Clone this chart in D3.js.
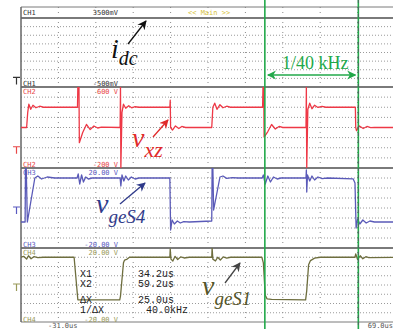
<!DOCTYPE html>
<html>
<head>
<meta charset="utf-8">
<script src="https://cdn.jsdelivr.net/npm/d3@7"></script>
<style>
  body { margin: 0; background: #fff; }
  svg { display: block; }
</style>
</head>
<body>
<div id="chart"></div>
<script>
// scope screen, time in us
const timeSpan = [-31, 69];
const timeLabels = ["-31.0us", "69.0us"];
const cursorTimes = [34.2, 59.2];
const cursorNames = ["X1", "X2", "\u0394X", "1/\u0394X"];
const cursorValues = ["34.2us", "59.2us", "25.0us", "40.0kHz"];

const channelNames = ["CH1", "CH2", "CH3", "CH4"];
const channelTopLabels = ["3500mV", "600 V", "20.00 V", "20.00 V"];
const channelBottomLabels = ["-500mV", "-200 V", "-20.00 V", "-20.00 V"];
const channelMax = [3.5, 600, 20, 20];
const channelMin = [-0.5, -200, -20, -20];

// CH2 v_xz  [us, V]
const vxz = [
  [-31, 200], [-29.5, 200], [-29.2, 350], [-28.9, 430], [-28.4, 380], [-27.8, 420], [-27.0, 395],
  [-26.0, 410], [-25.0, 400], [-15.9, 400], [-15.8, 600], [-15.5, 600], [-15.4, 50],
  [-14.5, 150], [-13.5, 230], [-12.5, 180], [-11.5, 215], [-10.5, 195], [-9.5, 203],
  [-4.5, 200], [-4.4, 600], [-4.3, -200], [-4.0, 350], [-3.6, 430], [-3.0, 390], [-2.2, 415],
  [-1.4, 395], [-0.5, 405], [0.5, 400], [8.8, 400], [8.9, 470], [9.0, 200], [9.5, 175],
  [10.3, 215], [11.2, 190], [12.0, 210], [13.0, 200], [20.0, 200], [20.3, 400], [20.8, 440],
  [21.4, 380], [22.2, 425], [23.0, 395], [24.0, 410], [25.0, 400], [33.6, 400], [33.7, 600],
  [33.9, 600], [34.0, 105], [35.0, 160], [36.0, 230], [37.0, 185], [38.0, 210], [39.0, 200],
  [45.2, 200], [45.3, 600], [45.4, -200], [45.7, 380], [46.2, 440], [46.8, 385], [47.5, 420],
  [48.4, 398], [49.5, 408], [50.5, 400], [58.4, 400], [58.5, 200], [58.7, 170], [59.5, 215],
  [60.5, 190], [61.5, 210], [62.5, 198], [63.5, 202], [69, 200]
];

// CH3 v_geS4  [us, V]
const vgeS4 = [
  [-31, -7], [-29.9, -7], [-29.8, 20], [-29.6, 20], [-29.3, -7], [-27.3, 15], [-26.5, 16],
  [-25.5, 14.5], [-24.0, 15.5], [-22.0, 15], [-16.0, 15], [-15.7, 17], [-15.3, 12], [-14.8, 16.5],
  [-14.3, 13], [-13.7, 15.5], [-13.0, 14.5], [-12.0, 15], [-4.5, 15], [-4.3, 11], [-4.0, 16.5],
  [-3.5, 13.5], [-3.0, 16], [-2.3, 14], [-1.5, 15.5], [-0.5, 14.5], [0.5, 15], [8.8, 15],
  [9.0, -11], [9.4, -6], [10.0, -8], [10.8, -6.5], [11.6, -7.5], [12.5, -6.8], [14.0, -7],
  [20.0, -6.5], [20.1, 20], [20.3, 20], [20.5, -1], [22.2, 15.5], [23.0, 16], [24.0, 14.8],
  [25.5, 15.2], [27.0, 15], [33.5, 15], [33.8, 16.5], [34.3, 12], [35.0, 16], [35.7, 13],
  [36.5, 15.5], [37.5, 14.5], [38.5, 15], [45.2, 15], [45.3, 19], [45.4, 8], [45.6, 16.5],
  [46.2, 13.5], [46.8, 16], [47.5, 14], [48.4, 15.5], [49.5, 14.7], [51.0, 15], [57.8, 14.6],
  [58.3, 12.5], [58.6, -10], [59.0, -5.5], [59.6, -8], [60.4, -6], [61.3, -7.5], [62.3, -6.5],
  [63.5, -7], [69, -7]
];

// CH4 v_geS1  [us, V]
const vgeS1 = [
  [-31, 15], [-30.3, 15.5], [-29.5, 14], [-29.0, 15.8], [-28.3, 14.2], [-27.5, 15.4],
  [-26.5, 14.8], [-25.0, 15], [-16.8, 15], [-15.8, -8], [-4.6, -8], [-4.4, -6], [-3.6, 12],
  [-3.3, 13.5], [-2.6, 14], [-2.0, 15], [8.8, 15], [8.9, 19.5], [9.1, 14], [9.6, 13],
  [10.2, 15.5], [10.9, 13.8], [11.7, 15.2], [12.6, 14.6], [14.0, 15], [20.0, 15], [20.1, 20],
  [20.3, 14], [21.0, 13], [21.6, 15], [22.3, 13.5], [23.1, 15.2], [24.0, 14.5], [25.0, 15],
  [33.4, 15], [33.8, 12], [34.3, -5.5], [34.8, -7.5], [36.0, -7.8], [44.8, -8], [45.1, -8],
  [45.4, -3], [45.9, 11], [46.4, 13.2], [47.5, 14.5], [49.0, 15], [58.3, 15], [58.5, 16.8],
  [59.0, 13.8], [59.7, 15.8], [60.4, 14.2], [61.2, 15.3], [62.0, 14.8], [69, 15]
];

const width = 393, height = 329;
const left = 21, right = 395;
// y extent of each channel zone
const zones = [[18, 87], [87, 168], [168, 248], [248, 322]];
const traceColors = [null, "#ee3846", "#5a5ab8", "#6e6e3e"];
const labelColors = ["#333", "#e84848", "#5a5ac0", "#9a9a5a"];

const svg = d3.select("#chart").append("svg")
  .attr("width", width)
  .attr("height", height);

const x = d3.scaleLinear().domain(timeSpan).range([left, right]);
const yScales = zones.map((z, i) => d3.scaleLinear().domain([channelMin[i], channelMax[i]]).range([z[1], z[0]]));

// dotted grid
const grid = svg.append("g").attr("class", "grid");
zones.forEach(z => {
  const step = (z[1] - z[0]) / 8;
  d3.range(1, 8).forEach(k => {
    grid.append("line")
      .attr("x1", left).attr("x2", width)
      .attr("y1", z[0] + k * step).attr("y2", z[0] + k * step)
      .attr("stroke", "#9a9a9a").attr("stroke-width", 1)
      .attr("stroke-dasharray", "1,2");
  });
});
d3.range(timeSpan[0] + 10, timeSpan[1], 10).forEach(t => {
  grid.append("line")
    .attr("x1", x(t)).attr("x2", x(t))
    .attr("y1", 7).attr("y2", 322)
    .attr("stroke", "#8a8a8a").attr("stroke-width", 1)
    .attr("stroke-dasharray", "1,4");
});

// frame
const frame = svg.append("g").attr("class", "frame");
[7, 18, 87, 168, 248, 322].forEach((yy, i) => {
  frame.append("line")
    .attr("x1", left).attr("x2", width)
    .attr("y1", yy).attr("y2", yy)
    .attr("stroke", "#7a7a7a").attr("stroke-width", i === 0 || i === 5 ? 1 : 2);
});
frame.append("line")
  .attr("x1", left).attr("x2", left).attr("y1", 7).attr("y2", 322)
  .attr("stroke", "#666").attr("stroke-width", 1.5);

// channel scale labels
const small = "'DejaVu Sans Mono', monospace";
channelNames.forEach((name, i) => {
  const z = zones[i];
  const topY = i === 0 ? 15 : z[0] + 7;
  const botY = i === 3 ? z[1] - 0.5 : z[1] - 1.5;
  [[topY, channelTopLabels[i]], [botY, channelBottomLabels[i]]].forEach(([yy, val]) => {
    svg.append("text").attr("x", 23).attr("y", yy).text(name)
      .attr("font-family", small).attr("font-size", 7).attr("fill", labelColors[i]);
    svg.append("text").attr("x", 118).attr("y", yy).text(val)
      .attr("font-family", small).attr("font-size", 7).attr("fill", labelColors[i])
      .attr("text-anchor", "end");
  });
  // ground marker
  const gy = yScales[i](0) + 2;
  svg.append("path")
    .attr("d", `M13,${gy - 3}H20M16.5,${gy - 3}V${gy + 4}`)
    .attr("fill", "none").attr("stroke", labelColors[i]).attr("stroke-width", 1.2);
});
svg.append("text").attr("x", 188).attr("y", 15).text("<< Main >>")
  .attr("font-family", small).attr("font-size", 7).attr("fill", "#d6c23a");
svg.append("text").attr("x", 48).attr("y", 328).text(timeLabels[0])
  .attr("font-family", small).attr("font-size", 7).attr("fill", "#555");
svg.append("text").attr("x", 393).attr("y", 328).text(timeLabels[1])
  .attr("font-family", small).attr("font-size", 7).attr("fill", "#555").attr("text-anchor", "end");

// traces
const defs = svg.append("defs");
[[1, vxz], [2, vgeS4], [3, vgeS1]].forEach(([ch, pts]) => {
  const z = zones[ch];
  defs.append("clipPath").attr("id", "clip" + ch)
    .append("rect").attr("x", left).attr("y", z[0]).attr("width", width - left).attr("height", z[1] - z[0]);
  const line = d3.line().x(d => x(d[0])).y(d => yScales[ch](d[1]));
  svg.append("path")
    .datum(pts)
    .attr("clip-path", `url(#clip${ch})`)
    .attr("d", line)
    .attr("fill", "none")
    .attr("stroke", traceColors[ch])
    .attr("stroke-width", 1.3)
    .attr("stroke-linejoin", "round");
});

// cursors
const green = "#22a84a";
cursorTimes.forEach((t, i) => {
  svg.append("line")
    .attr("x1", x(t)).attr("x2", x(t)).attr("y1", 0).attr("y2", height)
    .attr("stroke", green).attr("stroke-width", 1.6);
  if (i === 1) {
    svg.append("line")
      .attr("x1", x(t)).attr("x2", x(t)).attr("y1", 0).attr("y2", height)
      .attr("stroke", "#556").attr("stroke-width", 0.8)
      .attr("stroke-dasharray", "3,4");
  }
});

// cursor readout
const readRows = [276.5, 287, 302.5, 313];
const valueX = [138, 138, 138, 146];
cursorNames.forEach((n, i) => {
  svg.append("text").attr("x", 80).attr("y", readRows[i]).text(n)
    .attr("font-family", "'Liberation Mono', monospace").attr("font-size", 10).attr("fill", "#222");
  svg.append("text").attr("x", valueX[i]).attr("y", readRows[i]).text(cursorValues[i])
    .attr("font-family", "'Liberation Mono', monospace").attr("font-size", 10).attr("fill", "#222");
});

// annotations
const serif = "'Liberation Serif', 'DejaVu Serif', serif";
defs.selectAll("marker").data(["#111", "#e02a2a", "#2f3a8a", "#444", green]).enter()
  .append("marker")
  .attr("id", (d, i) => "ah" + i)
  .attr("viewBox", "0 0 10 10").attr("refX", 9).attr("refY", 5)
  .attr("markerWidth", 7).attr("markerHeight", 7).attr("orient", "auto-start-reverse")
  .append("path").attr("d", "M0,0L10,5L0,10L3,5Z").attr("fill", d => d);

function arrow(x1, y1, x2, y2, idx, color, both) {
  const l = svg.append("line")
    .attr("x1", x1).attr("y1", y1).attr("x2", x2).attr("y2", y2)
    .attr("stroke", color).attr("stroke-width", 1.3)
    .attr("marker-end", `url(#ah${idx})`);
  if (both) l.attr("marker-start", `url(#ah${idx})`);
}

function label(xx, yy, main, sub, color, mainSize, subSize, subDy) {
  const t = svg.append("text").attr("x", xx).attr("y", yy)
    .attr("font-family", serif).attr("font-style", "italic").attr("fill", color);
  t.append("tspan").attr("font-size", mainSize).text(main);
  t.append("tspan").attr("font-size", subSize).attr("dy", subDy).text(sub);
}

label(111, 58, "i", "dc", "#111", 28, 20, 7);
arrow(128, 44, 146, 21, 0, "#111");

label(132, 147, "v", "xz", "#e02a2a", 28, 22, 10);
arrow(153, 137, 168, 120, 1, "#e02a2a");

label(96, 213, "v", "geS4", "#2f3a8a", 28, 19, 10);
arrow(120, 204, 145, 183, 2, "#2f3a8a");

label(202, 295, "v", "geS1", "#55552a", 28, 19, 10);
arrow(225, 283, 240, 263, 3, "#444");

svg.append("text").attr("x", 282).attr("y", 69).text("1/40 kHz")
  .attr("font-family", serif).attr("font-size", 18).attr("fill", green);
arrow(x(cursorTimes[0]) + 3, 75, x(cursorTimes[1]) - 3, 75, 4, green, true);
</script>
</body>
</html>
